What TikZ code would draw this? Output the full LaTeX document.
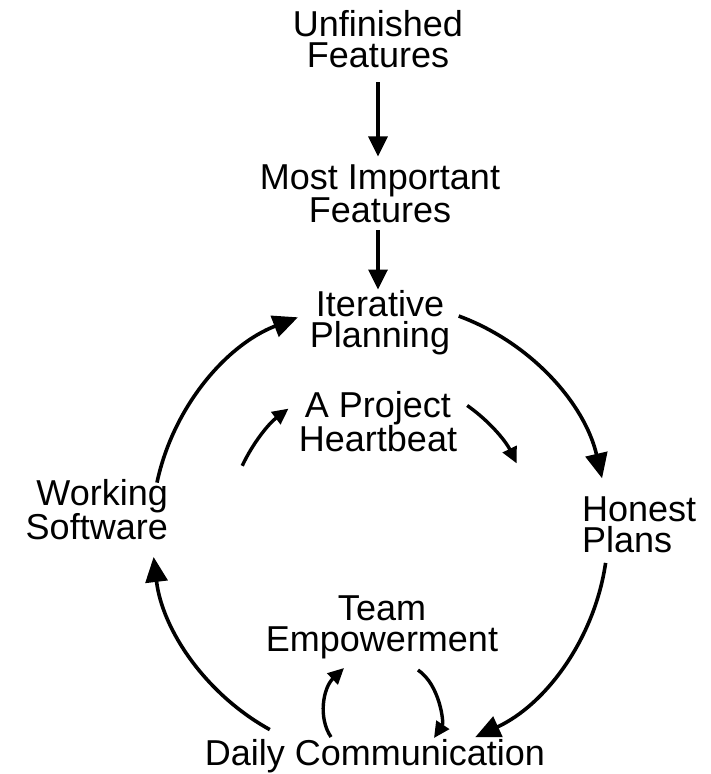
\documentclass[tikz,border=0pt]{standalone}
\usepackage{fontspec}
\setmainfont{Liberation Sans}
\usetikzlibrary{arrows.meta,calc}
\begin{document}
\begin{tikzpicture}[x=1pt,y=-1pt,
  lbl/.style={inner sep=0pt, align=center, text=black,
    font=\fontsize{36}{31}\selectfont,
    execute at begin node={\vphantom{dg}}, execute at end node={\vphantom{dg}}},
  bigarr/.style={line width=3.6pt, draw=black, -{Triangle[length=25pt,width=22pt]}},
  varr/.style={line width=3.4pt, draw=black, -{Triangle[length=20pt,width=19pt]}},
  smarr/.style={line width=3.4pt, draw=black, -{Triangle[length=16pt,width=15pt]}}
]
\useasboundingbox (0,0) rectangle (710,774);
\fill[white] (0,0) rectangle (710,774);

% labels
\node[lbl] (unf)  at (378,43)  {Unfinished\\Features};
\node[lbl] (most) at (380,197) {Most Important\\Features};
\node[lbl] (iter) at (380,323) {Iterative\\Planning};
\node[lbl] (proj) at (378,425) {A Project\\Heartbeat};
\node[lbl, align=right, anchor=east] (work) at (168,513) {Working\\Software};
\node[lbl, align=left, anchor=west]  (hon)  at (582,528) {Honest\\Plans};
\node[lbl] (team)  at (382,627) {Team\\Empowerment};
\node[lbl] (daily) at (375,756) {Daily Communication};

% vertical arrows
\draw[varr, shorten <=6.6pt, shorten >=7.6pt] (unf.south) -- (unf.south |- most.north);
\draw[varr, shorten >=1pt] (unf.south |- most.south) -- (unf.south |- iter.north);

% cycle centre
\coordinate (c) at (380,530);

% outer cycle
\coordinate (o1) at ($(c)+(-69.8:228)$);
\coordinate (o2) at ($(c)+(8.3:228)$);
\coordinate (o3) at ($(c)+(118.9:228)$);
\coordinate (o4) at ($(c)+(-168:228)$);
\draw[bigarr] (o1) arc[start angle=-69.8, end angle=-13.1, radius=228];
\draw[bigarr] (o2) arc[start angle=8.3, end angle=65.3, radius=228];
\draw[bigarr] (o3) arc[start angle=118.9, end angle=173.2, radius=228];
\draw[bigarr] (o4) arc[start angle=-168, end angle=-111.1, radius=228];

% heartbeat arrows
\coordinate (h1) at ($(c)+(205:152)$);
\coordinate (h2) at ($(c)+(-55:152)$);
\draw[smarr] (h1) arc[start angle=205, end angle=233, radius=152];
\draw[smarr] (h2) arc[start angle=-55, end angle=-26, radius=152];

% team empowerment arrows
\coordinate (t1) at (331,737);
\coordinate (t2) at (344,668);
\coordinate (t3) at (418,670);
\coordinate (t4) at (434,738);
\draw[smarr] (t1) .. controls (318,718) and (323,688) .. (t2);
\draw[smarr] (t3) .. controls (440,685) and (444,723) .. (t4);
\end{tikzpicture}
\end{document}
